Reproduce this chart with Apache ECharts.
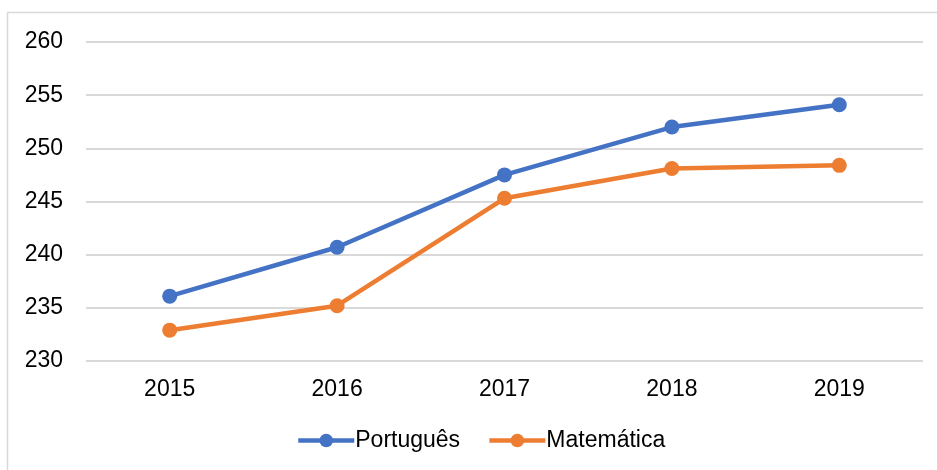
<!DOCTYPE html>
<html><head><meta charset="utf-8">
<script src="https://cdn.jsdelivr.net/npm/echarts@6/dist/echarts.min.js"></script>
<style>html,body{margin:0;padding:0;background:#fff}#c{width:937px;height:470px}</style>
</head><body><div id="c"></div>
<script>
const categories = ['2015', '2016', '2017', '2018', '2019'];
const portugues = [236.1, 240.7, 247.5, 252.0, 254.1];
const matematica = [232.9, 235.2, 245.3, 248.1, 248.4];
const seriesNames = ['Português', 'Matemática'];
const yTicks = { min: 230, max: 260, interval: 5 };

const chart = echarts.init(document.getElementById('c'), null, { renderer: 'canvas' });
const font = 'Liberation Sans, Arial, sans-serif';
chart.setOption({
  animation: false,
  backgroundColor: '#fff',
  textStyle: { fontFamily: font },
  graphic: [{
    type: 'rect',
    shape: { x: 7.5, y: 12.5, width: 1000, height: 500 },
    style: { fill: 'none', stroke: '#D9D9D9', lineWidth: 1.5 },
    silent: true
  }],
  grid: { left: 86, right: 14, top: 42, bottom: 109, containLabel: false },
  legend: {
    left: 291, top: 424,
    itemWidth: 56, itemHeight: 17, itemGap: 27,
    lineStyle: { width: 4.5 },
    textStyle: { fontSize: 23, color: '#000', fontFamily: font, padding: [0, 0, 0, -4] },
    data: seriesNames
  },
  xAxis: {
    type: 'category', data: categories, boundaryGap: true,
    axisLine: { show: false }, axisTick: { show: false },
    axisLabel: { fontSize: 23, color: '#000', margin: 17, fontFamily: font }
  },
  yAxis: {
    type: 'value', min: yTicks.min, max: yTicks.max, interval: yTicks.interval,
    axisLine: { show: false }, axisTick: { show: false },
    axisLabel: { fontSize: 23, color: '#000', margin: 23, fontFamily: font },
    splitLine: { lineStyle: { color: '#D9D9D9', width: 2 } }
  },
  series: [
    { name: seriesNames[0], type: 'line', data: portugues, symbol: 'circle', symbolSize: 15,
      color: '#4472C4', lineStyle: { width: 4.5, color: '#4472C4' }, itemStyle: { color: '#4472C4' } },
    { name: seriesNames[1], type: 'line', data: matematica, symbol: 'circle', symbolSize: 15,
      color: '#ED7D31', lineStyle: { width: 4.5, color: '#ED7D31' }, itemStyle: { color: '#ED7D31' } }
  ]
});
</script></body></html>
